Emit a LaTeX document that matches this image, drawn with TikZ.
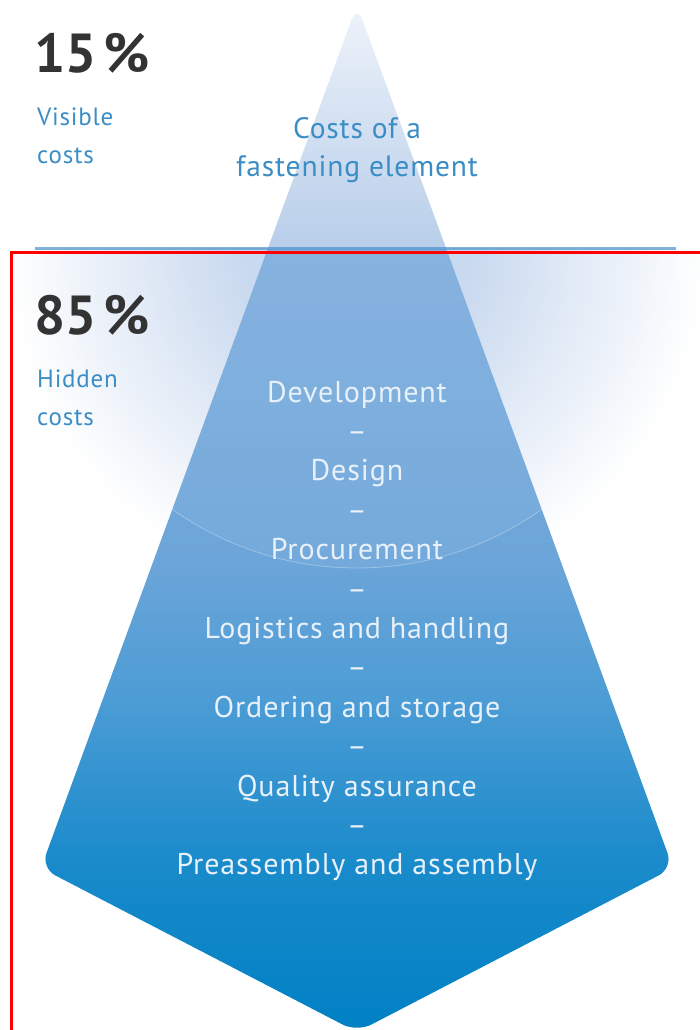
\documentclass[tikz,border=0pt]{standalone}
\usepackage{fontspec}
\setmainfont{PT Sans}[LetterSpace=3]
\newfontfamily\bigfont{PT Sans}[LetterSpace=0]
\usetikzlibrary{calc}

\definecolor{inkgray}{HTML}{333333}
\definecolor{labelblue}{HTML}{3A8DC5}
\definecolor{lineblue}{HTML}{4E92CC}
\definecolor{listwhite}{HTML}{E8F1FA}
\definecolor{glowin}{HTML}{C9D9EF}
\definecolor{icebottom}{HTML}{0080C4}
\definecolor{icelow}{HTML}{1A8BCB}
\definecolor{icemid}{HTML}{4C9CD5}
\definecolor{iceupper}{HTML}{6CA5D9}
\definecolor{icewater}{HTML}{80AEDD}
\definecolor{tipwater}{HTML}{B8CEEA}
\definecolor{tiptop}{HTML}{EEF3FA}

% Vertical gradient of the iceberg (25bp = bottom point, 75bp = apex)
\pgfdeclareverticalshading{iceberg}{100bp}{%
  color(0bp)=(icebottom); color(25bp)=(icebottom); color(33.4bp)=(icelow);
  color(41.2bp)=(icemid); color(48bp)=(iceupper); color(63.1bp)=(icewater);
  color(63.2bp)=(tipwater); color(75bp)=(tiptop); color(100bp)=(tiptop)}
% Glow around the water line (25bp = rim of the circle)
\pgfdeclareradialshading{underglow}{\pgfpoint{0bp}{0bp}}{%
  color(0bp)=(glowin); color(8bp)=(glowin); color(25bp)=(white);
  color(50bp)=(white)}

\tikzset{
  percent/.style={anchor=base west, inner sep=0pt, text=inkgray,
    font=\bigfont\bfseries\fontsize{55}{55}\selectfont},
  sidelabel/.style={anchor=base west, inner sep=0pt, text=labelblue,
    align=left, font=\fontsize{25}{38}\selectfont},
  listitem/.style={anchor=base, inner sep=0pt, text=listwhite,
    font=\fontsize{30}{30}\selectfont}
}

\begin{document}
\begin{tikzpicture}[x=1pt, y=-1pt]
  \useasboundingbox (0,0) rectangle (700,1030);

  % Key points of the iceberg
  \coordinate (apex) at (357,5);
  \coordinate (leftc) at (41,868);
  \coordinate (rightc) at (673,868);
  \coordinate (tip) at (357,1032);
  \coordinate (sea) at (357,248);

  % Glow below the water line
  \begin{scope}
    \clip (0,248) rectangle (700,1030);
    \shade[shading=underglow] (sea) circle (350);
  \end{scope}

  % Iceberg body
  \shade[shading=iceberg, rounded corners=16pt]
    (apex) -- (leftc) -- (tip) -- (rightc) -- cycle;

  % Lighter cap inside the glow, with its faint rim
  \begin{scope}
    \clip (apex) -- (leftc) -- (tip) -- (rightc) -- cycle;
    \clip (0,248) rectangle (700,1030);
    \fill[white, opacity=0.06] (sea) circle (320);
    \draw[white, opacity=0.3, line width=0.8pt] (sea) circle (320);
  \end{scope}

  % Water line
  \draw[lineblue, opacity=0.7, line width=3pt] (35,248) -- (676,248);

  % Frame
  \draw[red, line width=3pt] (11,1032) -- (11,252) -- (702,252);

  % Visible part
  \node[percent] (vispct) at (34,73) {15\kern7pt\%};
  \node[sidelabel] (vislbl) at (37,163) {Visible\\costs};
  \node[anchor=base, inner sep=0pt, text=labelblue, align=center,
    font=\fontsize{29.5}{38}\selectfont] (element) at (357,176)
    {Costs of a\\fastening element};

  % Hidden part
  \node[percent] (hidpct) at (34,334) {85\kern7pt\%};
  \node[sidelabel] (hidlbl) at (37,425) {Hidden\\costs};

  % Hidden cost items
  \foreach \item [count=\i] in {Development, Design, Procurement,
      Logistics and handling, Ordering and storage, Quality assurance,
      Preassembly and assembly}
    \node[listitem] (item\i) at (357,{402+78.8*(\i-1)}) {\item};
  \foreach \i in {1,...,6}
    \node[listitem] (dash\i) at (357,{441.4+78.8*(\i-1)}) {--};
\end{tikzpicture}
\end{document}
